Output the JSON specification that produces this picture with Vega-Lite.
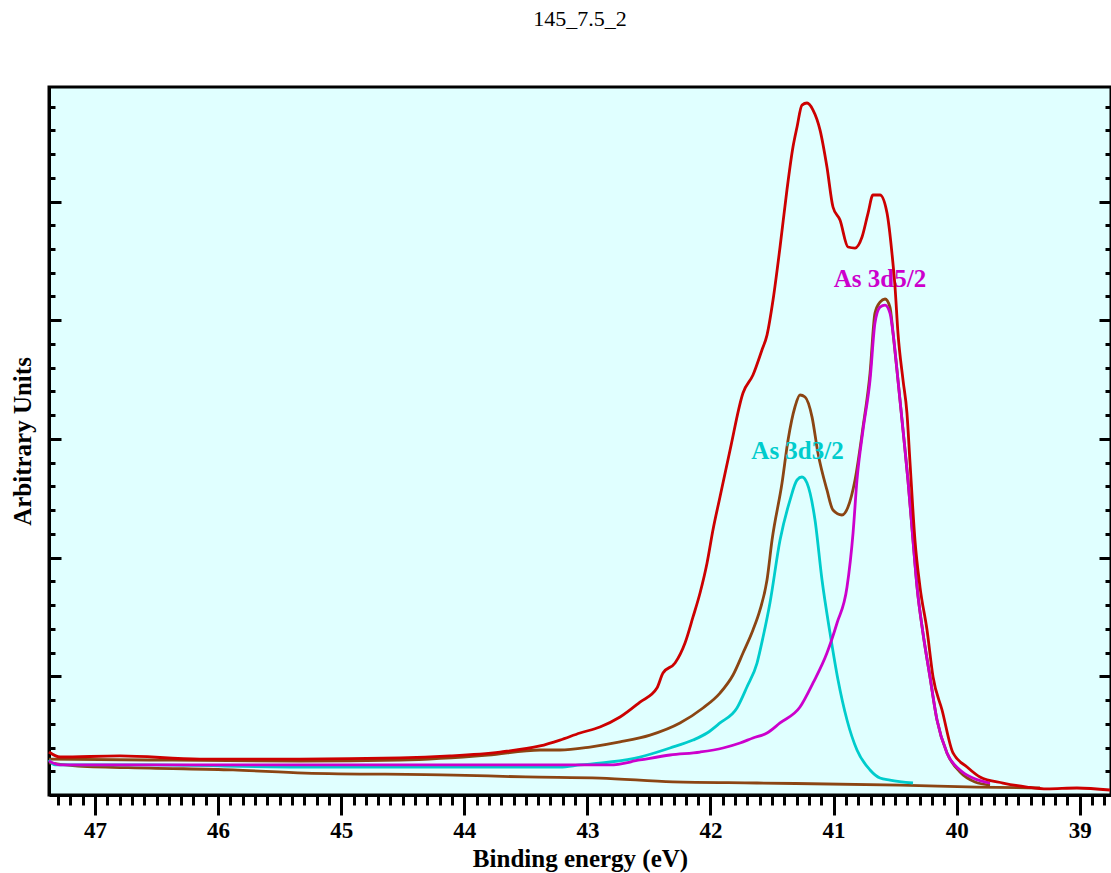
{
  "$schema": "https://vega.github.io/schema/vega-lite/v6.json",
  "width": 1062,
  "height": 708,
  "autosize": {"type": "none"},
  "padding": {"left": 49, "top": 87, "right": 0, "bottom": 78},
  "background": "white",
  "title": {
    "text": "145_7.5_2",
    "font": "Liberation Serif",
    "fontSize": 22,
    "fontWeight": "normal",
    "color": "black",
    "anchor": "middle",
    "offset": 56
  },
  "datasets": {
    "curves": [
      {"s": "bg", "e": 47.374, "v": 0.270}, {"s": "bg", "e": 47.138, "v": 0.244}, {"s": "bg", "e": 46.553, "v": 0.227},
      {"s": "bg", "e": 45.879, "v": 0.211}, {"s": "bg", "e": 45.294, "v": 0.185}, {"s": "bg", "e": 44.084, "v": 0.168},
      {"s": "bg", "e": 43.499, "v": 0.152}, {"s": "bg", "e": 42.898, "v": 0.143}, {"s": "bg", "e": 42.305, "v": 0.110},
      {"s": "bg", "e": 41.622, "v": 0.101}, {"s": "bg", "e": 40.461, "v": 0.084}, {"s": "bg", "e": 39.835, "v": 0.067},
      {"s": "bg", "e": 39.323, "v": 0.059},

      {"s": "fit", "e": 47.374, "v": 0.303}, {"s": "fit", "e": 46.553, "v": 0.295}, {"s": "fit", "e": 45.335, "v": 0.286},
      {"s": "fit", "e": 44.522, "v": 0.295}, {"s": "fit", "e": 43.808, "v": 0.337}, {"s": "fit", "e": 43.385, "v": 0.379},
      {"s": "fit", "e": 43.223, "v": 0.379}, {"s": "fit", "e": 42.979, "v": 0.404}, {"s": "fit", "e": 42.735, "v": 0.447},
      {"s": "fit", "e": 42.491, "v": 0.505}, {"s": "fit", "e": 42.248, "v": 0.607}, {"s": "fit", "e": 42.061, "v": 0.733},
      {"s": "fit", "e": 41.923, "v": 0.859}, {"s": "fit", "e": 41.817, "v": 1.011}, {"s": "fit", "e": 41.736, "v": 1.196},
      {"s": "fit", "e": 41.655, "v": 1.390}, {"s": "fit", "e": 41.598, "v": 1.559}, {"s": "fit", "e": 41.541, "v": 1.811},
      {"s": "fit", "e": 41.500, "v": 2.148}, {"s": "fit", "e": 41.419, "v": 2.628}, {"s": "fit", "e": 41.370, "v": 2.991},
      {"s": "fit", "e": 41.314, "v": 3.269}, {"s": "fit", "e": 41.273, "v": 3.370}, {"s": "fit", "e": 41.232, "v": 3.353},
      {"s": "fit", "e": 41.175, "v": 3.184}, {"s": "fit", "e": 41.127, "v": 2.881}, {"s": "fit", "e": 41.054, "v": 2.570},
      {"s": "fit", "e": 41.005, "v": 2.401}, {"s": "fit", "e": 40.932, "v": 2.359}, {"s": "fit", "e": 40.883, "v": 2.426},
      {"s": "fit", "e": 40.826, "v": 2.654}, {"s": "fit", "e": 40.761, "v": 3.100}, {"s": "fit", "e": 40.704, "v": 3.555},
      {"s": "fit", "e": 40.664, "v": 4.061}, {"s": "fit", "e": 40.623, "v": 4.153}, {"s": "fit", "e": 40.582, "v": 4.179},
      {"s": "fit", "e": 40.542, "v": 4.111}, {"s": "fit", "e": 40.517, "v": 3.892}, {"s": "fit", "e": 40.477, "v": 3.496},
      {"s": "fit", "e": 40.436, "v": 3.075}, {"s": "fit", "e": 40.396, "v": 2.654}, {"s": "fit", "e": 40.355, "v": 2.148},
      {"s": "fit", "e": 40.322, "v": 1.752}, {"s": "fit", "e": 40.274, "v": 1.365}, {"s": "fit", "e": 40.217, "v": 0.994},
      {"s": "fit", "e": 40.160, "v": 0.632}, {"s": "fit", "e": 40.079, "v": 0.354}, {"s": "fit", "e": 39.973, "v": 0.194},
      {"s": "fit", "e": 39.851, "v": 0.110}, {"s": "fit", "e": 39.729, "v": 0.084},

      {"s": "d32", "e": 47.374, "v": 0.295}, {"s": "d32", "e": 47.325, "v": 0.253}, {"s": "d32", "e": 46.553, "v": 0.253},
      {"s": "d32", "e": 45.335, "v": 0.236}, {"s": "d32", "e": 43.954, "v": 0.236}, {"s": "d32", "e": 43.223, "v": 0.236},
      {"s": "d32", "e": 43.060, "v": 0.253}, {"s": "d32", "e": 42.816, "v": 0.278}, {"s": "d32", "e": 42.573, "v": 0.320},
      {"s": "d32", "e": 42.329, "v": 0.396}, {"s": "d32", "e": 42.142, "v": 0.463}, {"s": "d32", "e": 42.028, "v": 0.522},
      {"s": "d32", "e": 41.923, "v": 0.607}, {"s": "d32", "e": 41.785, "v": 0.733}, {"s": "d32", "e": 41.704, "v": 0.910},
      {"s": "d32", "e": 41.622, "v": 1.112}, {"s": "d32", "e": 41.573, "v": 1.331}, {"s": "d32", "e": 41.517, "v": 1.618},
      {"s": "d32", "e": 41.435, "v": 2.148}, {"s": "d32", "e": 41.354, "v": 2.485}, {"s": "d32", "e": 41.297, "v": 2.654},
      {"s": "d32", "e": 41.257, "v": 2.679}, {"s": "d32", "e": 41.216, "v": 2.628}, {"s": "d32", "e": 41.151, "v": 2.317},
      {"s": "d32", "e": 41.094, "v": 1.811}, {"s": "d32", "e": 41.029, "v": 1.365}, {"s": "d32", "e": 40.964, "v": 0.969},
      {"s": "d32", "e": 40.891, "v": 0.632}, {"s": "d32", "e": 40.810, "v": 0.379}, {"s": "d32", "e": 40.704, "v": 0.211},
      {"s": "d32", "e": 40.623, "v": 0.143}, {"s": "d32", "e": 40.542, "v": 0.126}, {"s": "d32", "e": 40.355, "v": 0.101},

      {"s": "d52", "e": 47.374, "v": 0.286}, {"s": "d52", "e": 47.284, "v": 0.253}, {"s": "d52", "e": 46.147, "v": 0.253},
      {"s": "d52", "e": 45.010, "v": 0.253}, {"s": "d52", "e": 43.954, "v": 0.253}, {"s": "d52", "e": 43.223, "v": 0.253},
      {"s": "d52", "e": 42.816, "v": 0.253}, {"s": "d52", "e": 42.573, "v": 0.295}, {"s": "d52", "e": 42.329, "v": 0.337},
      {"s": "d52", "e": 42.085, "v": 0.362}, {"s": "d52", "e": 41.898, "v": 0.396}, {"s": "d52", "e": 41.760, "v": 0.438},
      {"s": "d52", "e": 41.655, "v": 0.480}, {"s": "d52", "e": 41.541, "v": 0.522}, {"s": "d52", "e": 41.435, "v": 0.607},
      {"s": "d52", "e": 41.273, "v": 0.741}, {"s": "d52", "e": 41.167, "v": 0.944}, {"s": "d52", "e": 41.054, "v": 1.196},
      {"s": "d52", "e": 40.972, "v": 1.449}, {"s": "d52", "e": 40.891, "v": 1.752}, {"s": "d52", "e": 40.842, "v": 2.207},
      {"s": "d52", "e": 40.810, "v": 2.654}, {"s": "d52", "e": 40.761, "v": 3.075}, {"s": "d52", "e": 40.704, "v": 3.496},
      {"s": "d52", "e": 40.664, "v": 3.976}, {"s": "d52", "e": 40.623, "v": 4.111}, {"s": "d52", "e": 40.582, "v": 4.128},
      {"s": "d52", "e": 40.542, "v": 4.061}, {"s": "d52", "e": 40.517, "v": 3.892}, {"s": "d52", "e": 40.477, "v": 3.496},
      {"s": "d52", "e": 40.436, "v": 3.075}, {"s": "d52", "e": 40.396, "v": 2.654}, {"s": "d52", "e": 40.355, "v": 2.148},
      {"s": "d52", "e": 40.322, "v": 1.752}, {"s": "d52", "e": 40.274, "v": 1.365}, {"s": "d52", "e": 40.217, "v": 0.994},
      {"s": "d52", "e": 40.160, "v": 0.632}, {"s": "d52", "e": 40.079, "v": 0.354}, {"s": "d52", "e": 39.973, "v": 0.211},
      {"s": "d52", "e": 39.868, "v": 0.143}, {"s": "d52", "e": 39.729, "v": 0.101},

      {"s": "data", "e": 47.374, "v": 0.362}, {"s": "data", "e": 47.284, "v": 0.320}, {"s": "data", "e": 46.797, "v": 0.329},
      {"s": "data", "e": 46.147, "v": 0.303}, {"s": "data", "e": 45.335, "v": 0.303}, {"s": "data", "e": 44.522, "v": 0.312},
      {"s": "data", "e": 44.116, "v": 0.329}, {"s": "data", "e": 43.710, "v": 0.362}, {"s": "data", "e": 43.385, "v": 0.413},
      {"s": "data", "e": 43.223, "v": 0.463}, {"s": "data", "e": 43.060, "v": 0.522}, {"s": "data", "e": 42.898, "v": 0.573},
      {"s": "data", "e": 42.735, "v": 0.657}, {"s": "data", "e": 42.573, "v": 0.783}, {"s": "data", "e": 42.435, "v": 0.901},
      {"s": "data", "e": 42.386, "v": 1.028}, {"s": "data", "e": 42.288, "v": 1.112}, {"s": "data", "e": 42.207, "v": 1.281},
      {"s": "data", "e": 42.142, "v": 1.500}, {"s": "data", "e": 42.085, "v": 1.702}, {"s": "data", "e": 42.028, "v": 1.955},
      {"s": "data", "e": 41.980, "v": 2.233}, {"s": "data", "e": 41.923, "v": 2.511}, {"s": "data", "e": 41.841, "v": 2.907},
      {"s": "data", "e": 41.736, "v": 3.387}, {"s": "data", "e": 41.655, "v": 3.538}, {"s": "data", "e": 41.582, "v": 3.749},
      {"s": "data", "e": 41.541, "v": 3.875}, {"s": "data", "e": 41.492, "v": 4.170}, {"s": "data", "e": 41.435, "v": 4.617},
      {"s": "data", "e": 41.379, "v": 5.097}, {"s": "data", "e": 41.330, "v": 5.459}, {"s": "data", "e": 41.297, "v": 5.628},
      {"s": "data", "e": 41.257, "v": 5.813}, {"s": "data", "e": 41.216, "v": 5.830}, {"s": "data", "e": 41.167, "v": 5.771},
      {"s": "data", "e": 41.110, "v": 5.602}, {"s": "data", "e": 41.054, "v": 5.291}, {"s": "data", "e": 41.005, "v": 4.954},
      {"s": "data", "e": 40.948, "v": 4.844}, {"s": "data", "e": 40.883, "v": 4.617}, {"s": "data", "e": 40.826, "v": 4.608},
      {"s": "data", "e": 40.769, "v": 4.701}, {"s": "data", "e": 40.720, "v": 4.903}, {"s": "data", "e": 40.680, "v": 5.055},
      {"s": "data", "e": 40.623, "v": 5.055}, {"s": "data", "e": 40.566, "v": 4.903}, {"s": "data", "e": 40.526, "v": 4.566},
      {"s": "data", "e": 40.501, "v": 4.280}, {"s": "data", "e": 40.477, "v": 3.892}, {"s": "data", "e": 40.436, "v": 3.496},
      {"s": "data", "e": 40.404, "v": 3.218}, {"s": "data", "e": 40.379, "v": 2.797}, {"s": "data", "e": 40.339, "v": 2.148},
      {"s": "data", "e": 40.298, "v": 1.752}, {"s": "data", "e": 40.241, "v": 1.390}, {"s": "data", "e": 40.192, "v": 0.994},
      {"s": "data", "e": 40.119, "v": 0.716}, {"s": "data", "e": 40.030, "v": 0.354}, {"s": "data", "e": 39.916, "v": 0.236},
      {"s": "data", "e": 39.811, "v": 0.152}, {"s": "data", "e": 39.624, "v": 0.101}, {"s": "data", "e": 39.429, "v": 0.067},
      {"s": "data", "e": 39.266, "v": 0.051}, {"s": "data", "e": 39.023, "v": 0.059}, {"s": "data", "e": 38.755, "v": 0.042}
    ],
    "labels": [
      {"label": "As 3d5/2", "e": 40.623, "v": 4.280},
      {"label": "As 3d3/2", "e": 41.293, "v": 2.831}
    ]
  },
  "data": {"name": "curves"},
  "layer": [
    {
      "encoding": {
        "x": {
          "field": "e",
          "type": "quantitative",
          "scale": {"domain": [38.7465, 47.3737], "reverse": true, "nice": false, "zero": false},
          "axis": {
            "orient": "bottom",
            "title": "Binding energy (eV)",
            "titleFontSize": 25,
            "titleFontWeight": "bold",
            "titlePadding": 4,
            "values": [38.8, 38.9, 39, 39.1, 39.2, 39.3, 39.4, 39.5, 39.6, 39.7, 39.8, 39.9, 40, 40.1, 40.2, 40.3, 40.4, 40.5, 40.6, 40.7, 40.8, 40.9, 41, 41.1, 41.2, 41.3, 41.4, 41.5, 41.6, 41.7, 41.8, 41.9, 42, 42.1, 42.2, 42.3, 42.4, 42.5, 42.6, 42.7, 42.8, 42.9, 43, 43.1, 43.2, 43.3, 43.4, 43.5, 43.6, 43.7, 43.8, 43.9, 44, 44.1, 44.2, 44.3, 44.4, 44.5, 44.6, 44.7, 44.8, 44.9, 45, 45.1, 45.2, 45.3, 45.4, 45.5, 45.6, 45.7, 45.8, 45.9, 46, 46.1, 46.2, 46.3, 46.4, 46.5, 46.6, 46.7, 46.8, 46.9, 47, 47.1, 47.2, 47.3],
            "labelExpr": "abs(datum.value - round(datum.value)) < 0.01 ? format(datum.value, 'd') : ''",
            "labelOverlap": false,
            "labelFlush": false,
            "labelFontSize": 23,
            "labelFontWeight": "bold",
            "labelPadding": 4,
            "tickSize": {"condition": {"test": "abs(datum.value - round(datum.value)) < 0.01", "value": 20}, "value": 10},
            "tickWidth": 3,
            "domainWidth": 3
          }
        },
        "y": {
          "field": "v",
          "type": "quantitative",
          "scale": {"domain": [0, 5.965], "nice": false, "zero": false},
          "axis": {
            "orient": "left",
            "title": "Arbitrary Units",
            "titleFontSize": 25,
            "titleFontWeight": "bold",
            "titlePadding": 12,
            "labels": false,
            "values": [0.2, 0.4, 0.6, 0.8, 1, 1.2, 1.4, 1.6, 1.8, 2, 2.2, 2.4, 2.6, 2.8, 3, 3.2, 3.4, 3.6, 3.8, 4, 4.2, 4.4, 4.6, 4.8, 5, 5.2, 5.4, 5.6, 5.8],
            "tickSize": {"condition": {"test": "abs(datum.value - round(datum.value)) < 0.01", "value": -12}, "value": -6},
            "tickWidth": 3,
            "domainWidth": 3
          }
        }
      },
      "layer": [
        {
          "transform": [{"filter": "datum.s === 'bg'"}],
          "mark": {"type": "line", "color": "#8B4513", "strokeWidth": 2.8, "interpolate": "monotone"}
        },
        {
          "transform": [{"filter": "datum.s === 'fit'"}],
          "mark": {"type": "line", "color": "#8B4513", "strokeWidth": 2.8, "interpolate": "monotone"}
        },
        {
          "transform": [{"filter": "datum.s === 'd32'"}],
          "mark": {"type": "line", "color": "#00CCCC", "strokeWidth": 2.8, "interpolate": "monotone"}
        },
        {
          "transform": [{"filter": "datum.s === 'd52'"}],
          "mark": {"type": "line", "color": "#CC00CC", "strokeWidth": 2.8, "interpolate": "monotone"}
        },
        {
          "data": {"name": "labels"},
          "mark": {"type": "text", "font": "Liberation Serif", "fontSize": 25, "fontWeight": "bold", "align": "center", "baseline": "alphabetic"},
          "encoding": {
            "text": {"field": "label"},
            "color": {"field": "label", "type": "nominal", "scale": {"domain": ["As 3d5/2", "As 3d3/2"], "range": ["#CC00CC", "#00CCCC"]}, "legend": null}
          }
        }
      ]
    },
    {
      "transform": [{"filter": "datum.s === 'data'"}],
      "mark": {"type": "line", "color": "#CC0000", "strokeWidth": 2.8, "interpolate": "monotone"},
      "encoding": {
        "x": {
          "field": "e",
          "type": "quantitative",
          "scale": {"domain": [38.7465, 47.3737], "reverse": true, "nice": false, "zero": false},
          "axis": {
            "orient": "bottom",
            "title": "Binding energy (eV)",
            "titleFontSize": 25,
            "titleFontWeight": "bold",
            "titlePadding": 4,
            "values": [38.8, 38.9, 39, 39.1, 39.2, 39.3, 39.4, 39.5, 39.6, 39.7, 39.8, 39.9, 40, 40.1, 40.2, 40.3, 40.4, 40.5, 40.6, 40.7, 40.8, 40.9, 41, 41.1, 41.2, 41.3, 41.4, 41.5, 41.6, 41.7, 41.8, 41.9, 42, 42.1, 42.2, 42.3, 42.4, 42.5, 42.6, 42.7, 42.8, 42.9, 43, 43.1, 43.2, 43.3, 43.4, 43.5, 43.6, 43.7, 43.8, 43.9, 44, 44.1, 44.2, 44.3, 44.4, 44.5, 44.6, 44.7, 44.8, 44.9, 45, 45.1, 45.2, 45.3, 45.4, 45.5, 45.6, 45.7, 45.8, 45.9, 46, 46.1, 46.2, 46.3, 46.4, 46.5, 46.6, 46.7, 46.8, 46.9, 47, 47.1, 47.2, 47.3],
            "labelExpr": "abs(datum.value - round(datum.value)) < 0.01 ? format(datum.value, 'd') : ''",
            "labelOverlap": false,
            "labelFlush": false,
            "labelFontSize": 23,
            "labelFontWeight": "bold",
            "labelPadding": 4,
            "tickSize": {"condition": {"test": "abs(datum.value - round(datum.value)) < 0.01", "value": 20}, "value": 10},
            "tickWidth": 3,
            "domainWidth": 3
          }
        },
        "y": {
          "field": "v",
          "type": "quantitative",
          "scale": {"domain": [0, 5.965], "nice": false, "zero": false},
          "axis": {
            "orient": "right",
            "title": null,
            "labels": false,
            "domain": false,
            "values": [0.2, 0.4, 0.6, 0.8, 1, 1.2, 1.4, 1.6, 1.8, 2, 2.2, 2.4, 2.6, 2.8, 3, 3.2, 3.4, 3.6, 3.8, 4, 4.2, 4.4, 4.6, 4.8, 5, 5.2, 5.4, 5.6, 5.8],
            "tickSize": {"condition": {"test": "abs(datum.value - round(datum.value)) < 0.01", "value": -12}, "value": -6},
            "tickWidth": 3
          }
        }
      }
    }
  ],
  "resolve": {"axis": {"y": "independent"}},
  "config": {
    "view": {"stroke": "black", "strokeWidth": 3, "fill": "#E0FFFF"},
    "axis": {
      "grid": false,
      "labelOverlap": false,
      "domainColor": "black",
      "tickColor": "black",
      "labelColor": "black",
      "titleColor": "black",
      "labelFont": "Liberation Serif",
      "titleFont": "Liberation Serif"
    }
  }
}
